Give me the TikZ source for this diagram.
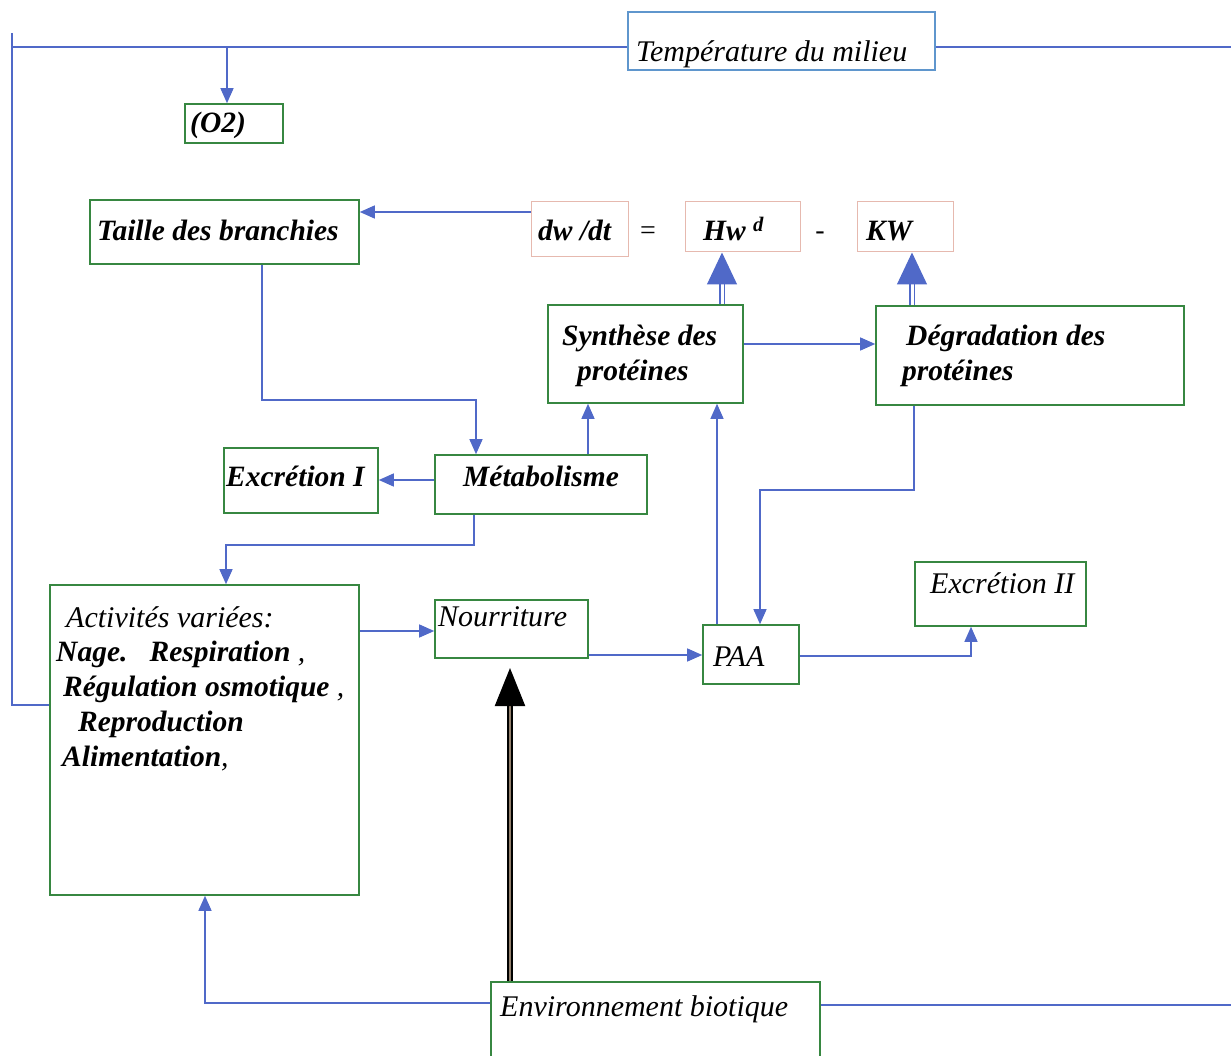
\documentclass[tikz,border=0pt]{standalone}
\usepackage{fontspec}
\setmainfont{Liberation Serif}
\usetikzlibrary{arrows.meta,calc}
\definecolor{lineblue}{RGB}{80,105,200}
\definecolor{boxgreen}{RGB}{55,135,65}
\definecolor{tempblue}{RGB}{95,150,205}
\definecolor{eqpink}{RGB}{230,185,175}
\begin{document}
\begin{tikzpicture}[x=1pt,y=-1pt,
  gbox/.style={draw=boxgreen,line width=1.6pt,inner sep=0pt},
  tbox/.style={draw=tempblue,line width=1.6pt,inner sep=0pt},
  ebox/.style={draw=eqpink,line width=1pt,inner sep=0pt},
  txt/.style={font=\fontsize{29.5}{33}\selectfont\bfseries\itshape,inner sep=0pt,anchor=base west},
  mtxt/.style={font=\fontsize{30}{33}\selectfont\itshape,inner sep=0pt,anchor=base west},
  bl/.style={draw=lineblue,line width=1.3pt},
  arr/.style={bl,-{Triangle[length=15pt,width=13pt]}},
  bigarr/.style={draw=lineblue,line width=1.2pt,double=white,double distance=3pt,-{Triangle[length=32pt,width=30pt,fill=lineblue]}},
  blackarr/.style={draw=black,line width=2.2pt,double=gray!70!brown,double distance=2.5pt,-{Triangle[length=38pt,width=30pt,fill=black]}}]
\useasboundingbox (0,0) rectangle (1231,1056);
% boxes
\node[tbox,minimum width=307pt,minimum height=58pt] (temp) at (781.5,41) {};
\node[mtxt] (tempt) at (636,62) {Température du milieu};
\node[gbox,minimum width=98pt,minimum height=39pt] (o2) at (234,123.5) {};
\node[txt] (o2t) at (190,133) {(O2)};
\node[gbox,minimum width=269pt,minimum height=64pt] (taille) at (224.5,232) {};
\node[txt] (taillet) at (97,241) {Taille des branchies};
\node[ebox,minimum width=97pt,minimum height=55pt] (dwdt) at (579.5,229.5) {};
\node[txt] (dwdtt) at (538,241) {dw /dt};
\node[mtxt,font=\fontsize{28}{30}\selectfont,anchor=base] (eq) at (648,240) {=};
\node[ebox,minimum width=115pt,minimum height=50pt] (hw) at (742.5,227) {};
\node[txt] (hwt) at (703,241) {Hw \textsuperscript{d}};
\node[mtxt,font=\fontsize{28}{30}\selectfont,anchor=base] (minus) at (820,240) {-};
\node[ebox,minimum width=96pt,minimum height=50pt] (kw) at (905,227) {};
\node[txt] (kwt) at (866,241) {KW};
\node[gbox,minimum width=195pt,minimum height=98pt] (syn) at (645.5,354) {};
\node[txt] (synt1) at (562,346) {Synthèse des};
\node[txt] (synt2) at (577,381) {protéines};
\node[gbox,minimum width=308pt,minimum height=99pt] (deg) at (1030,355.5) {};
\node[txt] (degt1) at (906,346) {Dégradation des};
\node[txt] (degt2) at (902,381) {protéines};
\node[gbox,minimum width=154pt,minimum height=65pt] (exc1) at (301,480.5) {};
\node[txt] (exc1t) at (226,486) {Excrétion I};
\node[gbox,minimum width=212pt,minimum height=59pt] (met) at (541,484.5) {};
\node[txt] (mett) at (463,486) {Métabolisme};
\node[gbox,minimum width=309pt,minimum height=310pt] (act) at (204.5,740) {};
\node[mtxt] (actt1) at (66,627) {Activités variées:};
\node[txt] (actt2) at (56,661) {Nage.\ \ \ Respiration {\mdseries ,}};
\node[txt] (actt3) at (63,696) {Régulation osmotique {\mdseries ,}};
\node[txt] (actt4) at (78,731) {Reproduction};
\node[txt] (actt5) at (62,766) {Alimentation{\mdseries ,}};
\node[gbox,minimum width=153pt,minimum height=58pt] (nour) at (511.5,629) {};
\node[mtxt] (nourt) at (438,626) {Nourriture};
\node[gbox,minimum width=96pt,minimum height=59pt] (paa) at (751,654.5) {};
\node[mtxt] (paat) at (713,666) {PAA};
\node[gbox,minimum width=171pt,minimum height=64pt] (exc2) at (1000.5,594) {};
\node[mtxt] (exc2t) at (930,593) {Excrétion II};
\node[gbox,minimum width=329pt,minimum height=90pt] (env) at (655.5,1027) {};
\node[mtxt] (envt) at (500,1016) {Environnement biotique};
% helper coordinates
\coordinate (tl) at (12,47);
\coordinate (tstub) at (12,33);
\coordinate (tbot) at (12,705);
\coordinate (tr) at (1231,47);
\coordinate (xo2) at (227,47);
\coordinate (y212) at (0,212);
\coordinate (x722) at (722,0);
\coordinate (x912) at (912,0);
\coordinate (y344) at (0,344);
\coordinate (y480) at (0,480);
\coordinate (tb1) at (262,400);
\coordinate (tb2) at (476,400);
\coordinate (x588) at (588,0);
\coordinate (mb1) at (474,545);
\coordinate (mb2) at (226,545);
\coordinate (y631) at (0,631);
\coordinate (y655) at (0,655);
\coordinate (x717) at (717,0);
\coordinate (db1) at (914,490);
\coordinate (db2) at (760,490);
\coordinate (pe) at (971,656);
\coordinate (eb1) at (205,1003);
\coordinate (er) at (1231,1005);
\coordinate (btip) at (510,668);
% connectors
\draw[bl] (temp.west |- tl) -- (tl);
\draw[bl] (temp.east |- tr) -- (tr);
\draw[bl] (tstub) -- (tbot) -- (act.west |- tbot);
\draw[arr] (xo2) -- (o2.north -| xo2);
\draw[arr] (dwdt.west |- y212) -- (taille.east |- y212);
\draw[bigarr] (syn.north -| x722) -- (hw.south -| x722);
\draw[bigarr] (deg.north -| x912) -- (kw.south -| x912);
\draw[arr] (syn.east |- y344) -- (deg.west |- y344);
\draw[arr] (met.west |- y480) -- (exc1.east |- y480);
\draw[arr] (taille.south -| tb1) -- (tb1) -- (tb2) -- (met.north -| tb2);
\draw[arr] (met.north -| x588) -- (syn.south -| x588);
\draw[arr] (met.south -| mb1) -- (mb1) -- (mb2) -- (act.north -| mb2);
\draw[arr] (act.east |- y631) -- (nour.west |- y631);
\draw[arr] (nour.east |- y655) -- (paa.west |- y655);
\draw[arr] (paa.north -| x717) -- (syn.south -| x717);
\draw[arr] (deg.south -| db1) -- (db1) -- (db2) -- (paa.north -| db2);
\draw[arr] (paa.east |- pe) -- (pe) -- (exc2.south -| pe);
\draw[arr] (env.west |- eb1) -- (eb1) -- (act.south -| eb1);
\draw[bl] (env.east |- er) -- (er);
\draw[blackarr] (env.north -| btip) -- (btip);
\end{tikzpicture}
\end{document}
